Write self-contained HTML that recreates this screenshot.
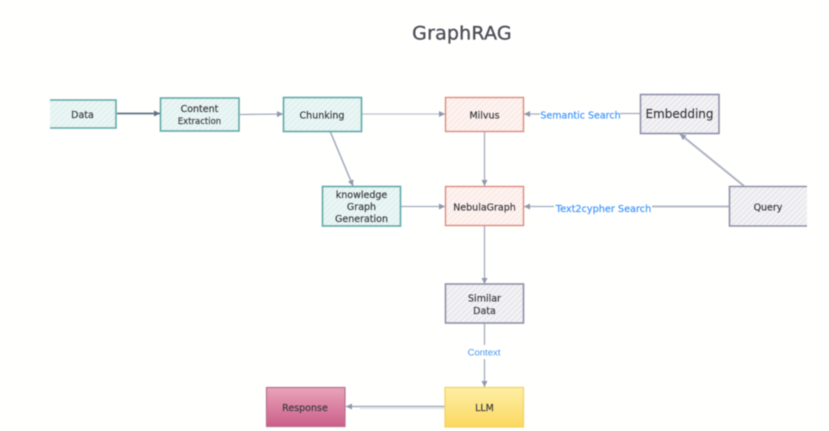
<!DOCTYPE html>
<html>
<head>
<meta charset="utf-8">
<style>
html,body{margin:0;padding:0;background:#fffffe;width:829px;height:431px;overflow:hidden}
svg{display:block;filter:blur(.5px)}
text{font-family:"DejaVu Sans","Liberation Sans",sans-serif;fill:#3a3a3e;stroke:#3a3a3e;stroke-width:.18;text-anchor:middle}
</style>
</head>
<body>
<svg width="829" height="431" viewBox="0 0 829 431" xmlns="http://www.w3.org/2000/svg">
<defs>
<pattern id="ht" width="4" height="4" patternUnits="userSpaceOnUse" patternTransform="rotate(-45)"><rect width="4" height="4" fill="#ebf6f4"/><rect width="4" height="1.200" fill="#dcf0ee"/></pattern>
<pattern id="hr" width="4" height="4" patternUnits="userSpaceOnUse" patternTransform="rotate(-45)"><rect width="4" height="4" fill="#fdf3f0"/><rect width="4" height="1.200" fill="#fae8e4"/></pattern>
<pattern id="hg" width="4" height="4" patternUnits="userSpaceOnUse" patternTransform="rotate(-45)"><rect width="4" height="4" fill="#f3f3f5"/><rect width="4" height="1.200" fill="#e5e5ea"/></pattern>
<linearGradient id="gy" x1="0" y1="0" x2="0" y2="1"><stop offset="0" stop-color="#feeea6"/><stop offset="1" stop-color="#fbd85f"/></linearGradient>
<linearGradient id="gp" x1="0" y1="0" x2="0" y2="1"><stop offset="0" stop-color="#e9a4bb"/><stop offset="1" stop-color="#cb5f88"/></linearGradient>
<marker id="a" markerWidth="8" markerHeight="8" refX="6" refY="3" orient="auto" markerUnits="userSpaceOnUse"><path d="M0 0L6 3L0 6Z" fill="#8f99ad"/></marker>
<marker id="ad" markerWidth="8" markerHeight="8" refX="6" refY="3" orient="auto" markerUnits="userSpaceOnUse"><path d="M0 0L6 3L0 6Z" fill="#5f7284"/></marker>
</defs>

<rect width="829" height="431" fill="#fffffe"/>

<text x="462" y="39.500" font-size="19" letter-spacing=".2" style="fill:#4d4e58;stroke:#4d4e58;stroke-width:.35">GraphRAG</text>

<!-- connectors -->
<g fill="none" stroke="#a4acbc" stroke-width="1.300">
<path d="M117 113.500H160" stroke="#5f7284" stroke-width="1.700" marker-end="url(#ad)"/>
<path d="M240 114.500L283 114" marker-end="url(#a)"/>
<path d="M362 114H445" stroke="#bdc2cd" marker-end="url(#a)"/>
<path d="M330 131L353 186" stroke-width="1.600" marker-end="url(#a)"/>
<path d="M401 206.500H445" marker-end="url(#a)"/>
<path d="M484.500 131V186" marker-end="url(#a)"/>
<path d="M484.500 226V284" marker-end="url(#a)"/>
<path d="M484.500 323V345M484.500 359V387" marker-end="url(#a)"/>
<path d="M640 113.500H620M540 114H524" marker-end="url(#a)"/>
<path d="M744 186L680 134" stroke-width="2" stroke="#adb3c1" marker-end="url(#a)"/>
<path d="M729 206.500H652" stroke-width="2" stroke="#b5bac6"/>
<path d="M554 206.500H524" marker-end="url(#a)"/>
<path d="M445 406.500H346" stroke-width="1.500" marker-end="url(#a)"/>
<path d="M445 408.500H360" stroke="#cfd3db" stroke-width=".8"/>
</g>

<!-- teal nodes -->
<g stroke="#62a9a8" stroke-width="1.600">
<path d="M50 100H116V128H50" fill="url(#ht)"/>
<rect x="160.500" y="98" width="78.500" height="33" fill="url(#ht)"/>
<rect x="283.500" y="97.500" width="78" height="34" fill="url(#ht)"/>
<rect x="322.500" y="186.500" width="78" height="39.500" fill="url(#ht)"/>
</g>

<!-- red nodes -->
<g stroke="#dc8b7f" stroke-width="1.400">
<rect x="445.500" y="97.500" width="78" height="34" fill="url(#hr)"/>
<rect x="445.500" y="186.500" width="78" height="39" fill="url(#hr)"/>
</g>

<!-- grey nodes -->
<g stroke="#8f91a8" stroke-width="1.600">
<rect x="640.500" y="94.500" width="78.500" height="39" fill="url(#hg)"/>
<path d="M807 186.500H729.500V226H807" fill="url(#hg)"/>
<rect x="445.500" y="284" width="78" height="39" fill="url(#hg)"/>
</g>

<!-- coloured nodes -->
<rect x="445" y="387.500" width="78.500" height="39.500" fill="url(#gy)" stroke="#f5d25e" stroke-width="1.200"/>
<rect x="266.500" y="387.500" width="78.500" height="39" fill="url(#gp)" stroke="#b8708f" stroke-width="1.200"/>

<!-- labels -->
<g font-size="9.500">
<text x="82.500" y="118">Data</text>
<text x="199.500" y="112">Content</text>
<text x="199.500" y="124" font-size="8.500">Extraction</text>
<text x="322" y="118.500">Chunking</text>
<text x="361.500" y="198">knowledge</text>
<text x="361.500" y="210">Graph</text>
<text x="361.500" y="222">Generation</text>
<text x="484.500" y="118.500">Milvus</text>
<text x="484.500" y="210.500">NebulaGraph</text>
<text x="679.500" y="118" font-size="12">Embedding</text>
<text x="768" y="210.500">Query</text>
<text x="484.500" y="301.500">Similar</text>
<text x="484.500" y="314">Data</text>
<text x="484.500" y="411">LLM</text>
<text x="305" y="411">Response</text>
</g>

<g font-size="9.500">
<text x="580.500" y="118.500" style="fill:#3f95fb;stroke:#3f95fb">Semantic Search</text>
<text x="603.500" y="212" font-size="9.700" style="fill:#3f95fb;stroke:#3f95fb">Text2cypher Search</text>
<text x="484" y="355.500" style="fill:#4a97f5;stroke:none;font-family:'Liberation Sans',sans-serif">Context</text>
</g>
</svg>
</body>
</html>
